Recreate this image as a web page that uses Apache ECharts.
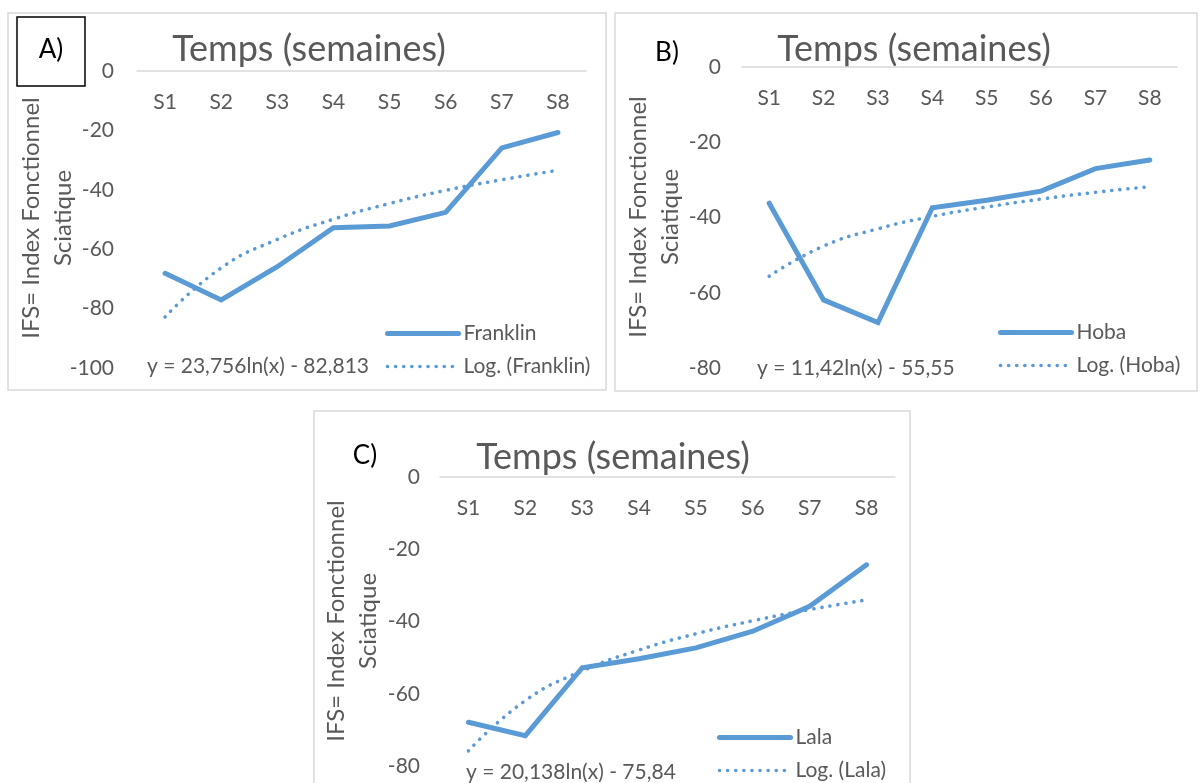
<!DOCTYPE html>
<html>
<head>
<meta charset="utf-8">
<script src="https://cdn.jsdelivr.net/npm/echarts@6/dist/echarts.min.js"></script>
<style>
  html, body { margin: 0; padding: 0; background: #fff; }
  #chart { width: 1200px; height: 783px; }
</style>
</head>
<body>
<div id="chart"></div>
<script>
// semaines
const weeks = ['S1', 'S2', 'S3', 'S4', 'S5', 'S6', 'S7', 'S8'];

// IFS
const franklin = [-68.1, -77.1, -65.9, -52.8, -52.2, -47.6, -25.9, -20.7];
const franklinTrend = [-82.8, -66.3, -56.7, -49.9, -44.6, -40.2, -36.6, -33.4];
const hoba = [-36.2, -61.9, -67.9, -37.4, -35.4, -33.0, -27.0, -24.7];
const hobaTrend = [-55.6, -47.6, -43.0, -39.7, -37.2, -35.1, -33.3, -31.8];
const lala = [-67.9, -71.6, -52.8, -50.3, -47.3, -42.7, -35.8, -24.3];
const lalaTrend = [-75.8, -61.9, -53.7, -47.9, -43.4, -39.8, -36.7, -34.0];

const BLUE = '#5B9BD5';
const GREY = '#595959';
const FONT = 'Lato';
const DOTS = [0.1, 8];

const myChart = echarts.init(document.getElementById('chart'));

function xAx(grid) {
  return {
    gridIndex: grid, type: 'category', data: weeks, position: 'top',
    axisLine: { show: true, lineStyle: { color: '#D9D9D9', width: 1.5 } },
    axisTick: { show: false },
    axisLabel: { inside: true, margin: 21, color: GREY, fontSize: 21, fontFamily: FONT },
    splitLine: { show: false }
  };
}
function yAx(grid, min, margin) {
  return {
    gridIndex: grid, type: 'value', min: min, max: 0, interval: 20,
    axisLine: { show: false }, axisTick: { show: false }, splitLine: { show: false },
    axisLabel: { margin: margin, color: GREY, fontSize: 21, fontFamily: FONT }
  };
}
function solid(name, data, i) {
  return {
    name: name, type: 'line', data: data, xAxisIndex: i, yAxisIndex: i,
    symbol: 'none', lineStyle: { color: BLUE, width: 5, cap: 'round', join: 'miter' },
    itemStyle: { color: BLUE }, z: 4
  };
}
function trend(name, data, i) {
  return {
    name: name, type: 'line', data: data, xAxisIndex: i, yAxisIndex: i,
    symbol: 'none', smooth: true,
    lineStyle: { color: BLUE, width: 3.6, type: DOTS, cap: 'round' },
    itemStyle: { color: BLUE }, z: 3
  };
}
function leg(names, left, top) {
  return {
    data: [
      { name: names[0], lineStyle: { width: 5, cap: 'round' } },
      { name: names[1], lineStyle: { width: 3.6, type: DOTS, cap: 'round' } }
    ],
    orient: 'vertical', left: left, top: top, padding: 0,
    itemWidth: 71, itemHeight: 14, itemGap: 12, selectedMode: false,
    itemStyle: { color: 'rgba(0,0,0,0)', borderWidth: 0, opacity: 0 },
    textStyle: { color: GREY, fontSize: 21, fontFamily: FONT }
  };
}
function txt(x, y, text, size, color, align) {
  return {
    type: 'text', x: x, y: y,
    style: {
      text: text, fill: color, fontSize: size, fontFamily: FONT,
      align: align, textAlign: align, verticalAlign: 'middle', textVerticalAlign: 'middle'
    }
  };
}
function box(x, y, w, h, color) {
  return {
    type: 'rect', shape: { x: x, y: y, width: w, height: h },
    style: { fill: 'none', stroke: color, lineWidth: 1.5 }
  };
}
function yName(x, y) {
  const t = txt(x, y, 'IFS= Index Fonctionnel\nSciatique', 24, GREY, 'center');
  t.rotation = Math.PI / 2;
  t.style.lineHeight = 32;
  return t;
}

const option = {
  animation: false,
  backgroundColor: '#fff',
  grid: [
    { left: 137, right: 614, top: 71, bottom: 415 },
    { left: 742, right: 23, top: 67, bottom: 415 },
    { left: 440, right: 305, top: 477, bottom: 17 }
  ],
  xAxis: [xAx(0), xAx(1), xAx(2)],
  yAxis: [yAx(0, -100, 23), yAx(1, -80, 21), yAx(2, -80, 20)],
  legend: [
    leg(['Franklin', 'Log. (Franklin)'], 385, 323),
    leg(['Hoba', 'Log. (Hoba)'], 998, 322),
    leg(['Lala', 'Log. (Lala)'], 717, 727)
  ],
  series: [
    solid('Franklin', franklin, 0), trend('Log. (Franklin)', franklinTrend, 0),
    solid('Hoba', hoba, 1), trend('Log. (Hoba)', hobaTrend, 1),
    solid('Lala', lala, 2), trend('Log. (Lala)', lalaTrend, 2)
  ],
  graphic: [
    box(8, 13, 598, 377, '#D9D9D9'),
    box(615, 13, 582, 378, '#D9D9D9'),
    box(314, 411, 596, 400, '#D9D9D9'),
    box(17, 17, 68, 69, '#000'),
    txt(51, 50, 'A)', 26, '#000', 'center'),
    txt(667, 53, 'B)', 26, '#000', 'center'),
    txt(365, 456, 'C)', 26, '#000', 'center'),
    txt(309, 49, 'Temps (semaines)', 36, GREY, 'center'),
    txt(914, 49, 'Temps (semaines)', 36, GREY, 'center'),
    txt(613, 457, 'Temps (semaines)', 36, GREY, 'center'),
    txt(147, 366, 'y = 23,756ln(x) - 82,813', 21, GREY, 'left'),
    txt(757, 368, 'y = 11,42ln(x) - 55,55', 21, GREY, 'left'),
    txt(466, 772, 'y = 20,138ln(x) - 75,84', 21, GREY, 'left'),
    yName(47, 218),
    yName(654, 217),
    yName(352, 621)
  ]
};

option && myChart.setOption(option);
</script>
</body>
</html>
